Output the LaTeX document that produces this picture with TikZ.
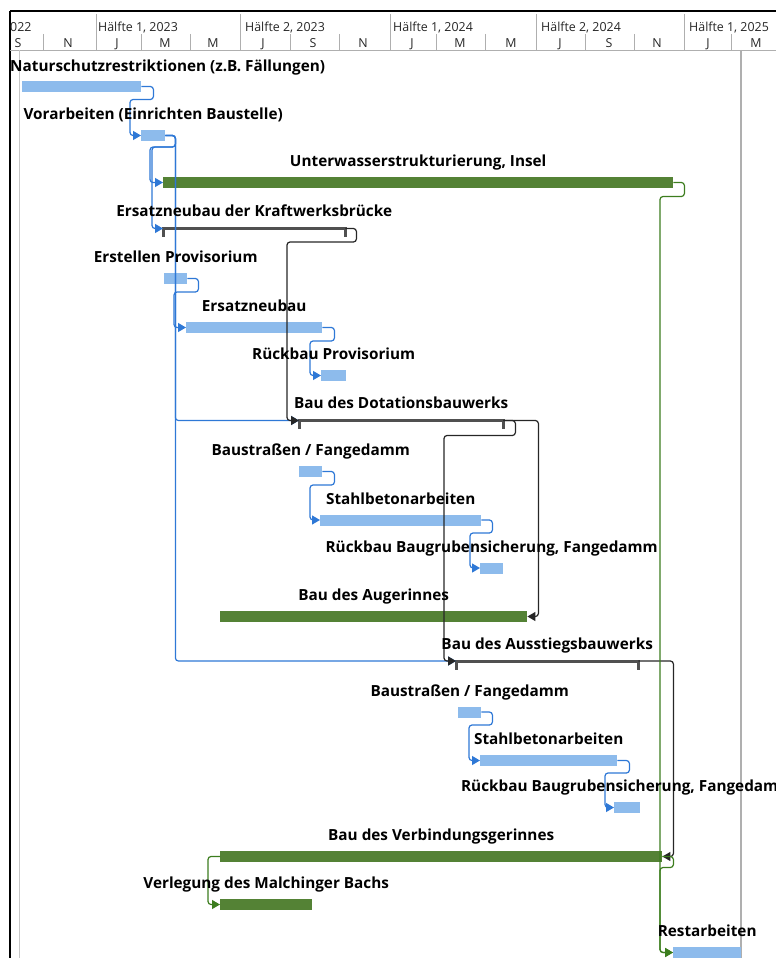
\documentclass[tikz,border=0pt]{standalone}
\usepackage{fontspec}
\setmainfont{Open Sans}
\usetikzlibrary{positioning,arrows.meta,calc}

\definecolor{barblue}{RGB}{141,187,236}
\definecolor{bargreen}{RGB}{84,130,53}
\definecolor{linkblue}{RGB}{46,120,214}
\definecolor{linkgreen}{RGB}{60,125,30}
\definecolor{sumgray}{RGB}{80,80,80}
\definecolor{gridgray}{RGB}{175,175,175}

\tikzset{
  bluebar/.style={fill=barblue, anchor=west, minimum height=11pt, inner sep=0pt},
  greenbar/.style={fill=bargreen, anchor=west, minimum height=11pt, inner sep=0pt},
  sumbar/.style={fill=sumgray, anchor=west, minimum height=3pt, inner sep=0pt},
  sumcap/.style={fill=sumgray, minimum width=3pt, minimum height=10pt, inner sep=0pt, anchor=north},
  lbl/.style={font=\bfseries\fontsize{15.3}{17}\selectfont, inner sep=0pt, anchor=base},
  hdr/.style={font=\fontsize{12.4}{14}\selectfont, text=black!85, inner sep=0pt, anchor=base},
  bluelink/.style={draw=linkblue, line width=1.2pt, rounded corners=3pt, -{Triangle[length=8pt,width=9pt]}},
  greenlink/.style={draw=linkgreen, line width=1.2pt, rounded corners=3pt, -{Triangle[length=8pt,width=9pt]}},
  blacklink/.style={draw=black!85, line width=1.2pt, rounded corners=3pt, -{Triangle[length=8pt,width=9pt]}}
}

\begin{document}
\begin{tikzpicture}[x=1pt,y=-1pt]
\useasboundingbox (0,0) rectangle (776,958);
\clip (0,0) rectangle (776,958);

% timescale
\draw[line width=2pt] (10,11) -- (776,11);
\draw[line width=2pt] (10,11) -- (10,958);
\draw[gridgray] (10,50) -- (776,50);
\foreach \x in {96,240,390,536,684}
  \draw[gridgray] (\x,14) -- (\x,50);
\foreach \x in {43,141,190,290,339,436,485,585,634,731}
  \draw[gridgray] (\x,34) -- (\x,50);
\node[hdr, anchor=base west] at (10,32) {022};
\foreach \x/\t in {98/{Hälfte 1, 2023},245/{Hälfte 2, 2023},393/{Hälfte 1, 2024},541/{Hälfte 2, 2024},689/{Hälfte 1, 2025}}
  \node[hdr, anchor=base west] at (\x,32) {\t};
\foreach \x/\m in {18/S,68/N,117/J,165/M,213/M,263/J,313/S,363/N,412/J,460/M,511/M,560/J,609/S,657/N,708/J,756/M}
  \node[hdr] at (\x,48) {\m};
\draw[gridgray!70] (19,50) -- (19,958);
\draw[gridgray, line width=1.5pt] (741,50) -- (741,958);

% bars
\node[bluebar, minimum width=119pt] (natur) at (22,86.5) {};
\node[bluebar, minimum width=24pt] (vor) at (141,135.5) {};
\node[greenbar, minimum width=510pt] (unter) at (163,182.5) {};
\node[sumbar, minimum width=182pt] (ers) at (163,228.5) {};
\node[bluebar, minimum width=23pt] (prov) at (164,278.5) {};
\node[bluebar, minimum width=136pt] (neu) at (186,327.5) {};
\node[bluebar, minimum width=25pt] (rprov) at (321,375.5) {};
\node[sumbar, minimum width=204pt] (dot) at (299,420.5) {};
\node[bluebar, minimum width=23pt] (bs1) at (299,471.5) {};
\node[bluebar, minimum width=161pt] (sb1) at (320,520) {};
\node[bluebar, minimum width=23pt] (rb1) at (480,568) {};
\node[greenbar, minimum width=307pt] (auge) at (220,616.5) {};
\node[sumbar, minimum width=182pt] (aus) at (456,661) {};
\node[bluebar, minimum width=23pt] (bs2) at (458,712) {};
\node[bluebar, minimum width=137pt] (sb2) at (480,760.5) {};
\node[bluebar, minimum width=26pt] (rb2) at (614,807.5) {};
\node[greenbar, minimum width=442pt] (verb) at (220,856.5) {};
\node[greenbar, minimum width=92pt] (malch) at (220,904.5) {};
\node[bluebar, minimum width=68pt] (rest) at (673,952.5) {};

% summary end caps
\foreach \s in {ers,dot,aus} {
  \node[sumcap] at (\s.north west) {};
  \node[sumcap] at (\s.north east) {};
}

% links
\draw[bluelink] (natur.east) -| ++(12,13) -| ([xshift=-11pt]vor.west) -- (vor.west);
\draw[bluelink] (vor.east) -| ++(10,11.5) -| ([xshift=-13pt]unter.west) -- (unter.west);
\draw[bluelink] (vor.east) -| ++(10,11.5) -| ([xshift=-11pt]ers.west) -- (ers.west);
\draw[bluelink] (vor.east) -- ++(10,0) |- (dot.west);
\draw[bluelink] (vor.east) -- ++(10,0) |- (aus.west);
\draw[bluelink] (prov.east) -| ++(11,13.5) -| ([xshift=-12pt]neu.west) -- (neu.west);
\draw[bluelink] (neu.east) -| ++(12,13.5) -| ([xshift=-11pt]rprov.west) -- (rprov.west);
\draw[bluelink] (bs1.east) -| ++(12,13.5) -| ([xshift=-10pt]sb1.west) -- (sb1.west);
\draw[bluelink] (sb1.east) -| ++(11,13) -| ([xshift=-10pt]rb1.west) -- (rb1.west);
\draw[bluelink] (bs2.east) -| ++(11,13) -| ([xshift=-11pt]sb2.west) -- (sb2.west);
\draw[bluelink] (sb2.east) -| ++(12,12.5) -| ([xshift=-9pt]rb2.west) -- (rb2.west);
\draw[blacklink] (ers.east) -| ++(11,13.5) -| ([xshift=-12pt]dot.west) -- (dot.west);
\draw[blacklink] (dot.east) -| ++(12,15) -| ([xshift=-12pt]aus.west) -- (aus.west);
\draw[blacklink] (dot.east) -- ++(35,0) |- (auge.east);
\draw[blacklink] (aus.east) -- ++(35,0) |- (verb.east);
\draw[greenlink] (unter.east) -| ++(11,14) -| ([xshift=-13pt]rest.west) -- (rest.west);
\draw[greenlink] (verb.east) -| ++(11,11) -| ([xshift=-13pt]rest.west) -- (rest.west);
\draw[greenlink] (verb.west) -- ++(-12,0) |- (malch.west);

% labels
\node[lbl, anchor=base west] at (10,71) {Naturschutzrestriktionen (z.B. Fällungen)};
\node[lbl, above=10pt of vor.north, anchor=base] {Vorarbeiten (Einrichten Baustelle)};
\node[lbl, above=10pt of unter.north, anchor=base] {Unterwasserstrukturierung, Insel};
\node[lbl, above=10pt of ers.north, anchor=base] {Ersatzneubau der Kraftwerksbrücke};
\node[lbl, above=10pt of prov.north, anchor=base] {Erstellen Provisorium};
\node[lbl, above=10pt of neu.north, anchor=base] {Ersatzneubau};
\node[lbl, above=10pt of rprov.north, anchor=base] {Rückbau Provisorium};
\node[lbl, above=10pt of dot.north, anchor=base] {Bau des Dotationsbauwerks};
\node[lbl, above=10pt of bs1.north, anchor=base] {Baustraßen / Fangedamm};
\node[lbl, above=10pt of sb1.north, anchor=base] {Stahlbetonarbeiten};
\node[lbl, above=10pt of rb1.north, anchor=base] {Rückbau Baugrubensicherung, Fangedamm};
\node[lbl, above=10pt of auge.north, anchor=base] {Bau des Augerinnes};
\node[lbl, above=10pt of aus.north, anchor=base] {Bau des Ausstiegsbauwerks};
\node[lbl, above=10pt of bs2.north, anchor=base] {Baustraßen / Fangedamm};
\node[lbl, above=10pt of sb2.north, anchor=base] {Stahlbetonarbeiten};
\node[lbl, above=10pt of rb2.north, anchor=base] {Rückbau Baugrubensicherung, Fangedamm};
\node[lbl, above=10pt of verb.north, anchor=base] {Bau des Verbindungsgerinnes};
\node[lbl, above=10pt of malch.north, anchor=base] {Verlegung des Malchinger Bachs};
\node[lbl, above=10pt of rest.north, anchor=base] {Restarbeiten};
\end{tikzpicture}
\end{document}
